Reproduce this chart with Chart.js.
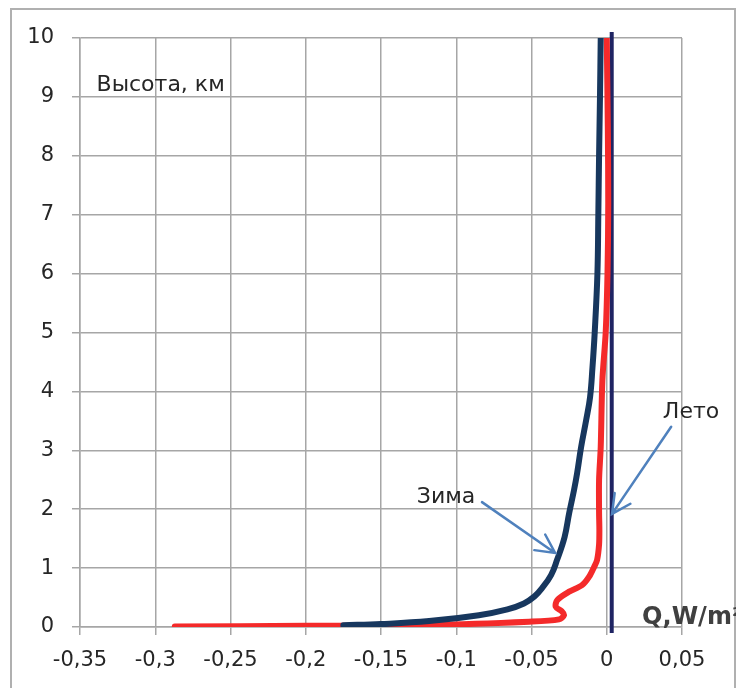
<!DOCTYPE html>
<html>
<head>
<meta charset="utf-8">
<style>
  html, body { margin: 0; padding: 0; background: #ffffff; }
  #wrap { width: 736px; height: 688px; position: relative; }
</style>
<script src="https://cdn.jsdelivr.net/npm/chart.js@4.4.1/dist/chart.umd.min.js"></script>
</head>
<body>
<div id="wrap"><canvas id="c" width="736" height="688"></canvas></div>
<script>
// Heat flux Q (W/m²) against height (km)
const winterQ = [-0.175, -0.15, -0.118, -0.085, -0.066, -0.055, -0.048, -0.043, -0.037, -0.033, -0.028, -0.025, -0.0217, -0.0197, -0.017, -0.0137, -0.0111, -0.0095, -0.008, -0.0062, -0.0056, -0.0051, -0.0045, -0.004];
const winterH = [0.03, 0.05, 0.10, 0.20, 0.30, 0.40, 0.52, 0.66, 0.88, 1.14, 1.53, 1.93, 2.33, 2.61, 3.06, 3.51, 3.9, 4.4, 5.0, 6.0, 7.0, 8.0, 9.0, 10.0];

const summerQ = [-0.287, -0.2, -0.118, -0.0516, -0.0317, -0.0284, -0.0300, -0.0339, -0.0328, -0.025, -0.0164, -0.0118, -0.0084, -0.0064, -0.0051, -0.0049, -0.0051, -0.0051, -0.0040, -0.0029, -0.0007, 0.0005, 0.001, 0.0007, 0.0];
const summerH = [0.01, 0.02, 0.034, 0.09, 0.13, 0.20, 0.27, 0.345, 0.46, 0.60, 0.71, 0.85, 1.02, 1.14, 1.4, 1.65, 1.94, 2.5, 3.06, 4.19, 5.0, 6.0, 7.2, 8.5, 10.0];

// vertical reference line
const refQ = [0.0033, 0.0033];
const refH = [-0.1, 10.1];

const xTickLabels = ['-0,35', '-0,3', '-0,25', '-0,2', '-0,15', '-0,1', '-0,05', '0', '0,05'];
const yTickLabels = ['0', '1', '2', '3', '4', '5', '6', '7', '8', '9', '10'];

// callouts: text position and arrow endpoints, in axis units
const callouts = [
  { text: 'Зима', q: -0.1068, h: 2.21, from: [-0.0829, 2.12], to: [-0.0343, 1.256] },
  { text: 'Лето', q: 0.056, h: 3.65, from: [0.0428, 3.40], to: [0.0035, 1.92] }
];
const heightTitle = { text: 'Высота, км', q: -0.339, h: 9.20 };
const fluxTitle = { text: 'Q,W/m²', q: 0.0235, h: 0.15 };

const pts = (xs, ys) => xs.map((x, i) => ({ x: x, y: ys[i] }));

const gridGray = '#a6a6a6';
const textColor = '#262626';

const decor = {
  id: 'decor',
  beforeDraw(chart) {
    const ctx = chart.ctx;
    ctx.save();
    ctx.fillStyle = '#ffffff';
    ctx.fillRect(0, 0, chart.width, chart.height);
    ctx.strokeStyle = '#b0b0b0';
    ctx.lineWidth = 2;
    ctx.strokeRect(11, 9, 724, 700);
    ctx.restore();
  },
  afterDraw(chart) {
    const ctx = chart.ctx;
    const xs = chart.scales.x, ys = chart.scales.y;
    const px = q => xs.getPixelForValue(q);
    const py = h => ys.getPixelForValue(h);
    ctx.save();
    ctx.fillStyle = textColor;
    ctx.textBaseline = 'middle';

    ctx.font = '22px "DejaVu Sans"';
    ctx.textAlign = 'left';
    ctx.fillText(heightTitle.text, px(heightTitle.q), py(heightTitle.h));

    callouts.forEach(c => {
      ctx.font = '22px "DejaVu Sans"';
      ctx.textAlign = 'center';
      ctx.fillStyle = textColor;
      ctx.fillText(c.text, px(c.q), py(c.h));
      const x0 = px(c.from[0]), y0 = py(c.from[1]);
      const x1 = px(c.to[0]), y1 = py(c.to[1]);
      ctx.strokeStyle = '#4f81bd';
      ctx.lineWidth = 2.5;
      ctx.lineCap = 'round';
      ctx.beginPath();
      ctx.moveTo(x0, y0);
      ctx.lineTo(x1, y1);
      const a = Math.atan2(y1 - y0, x1 - x0);
      const len = 21, spread = 0.47;
      ctx.moveTo(x1 - len * Math.cos(a - spread), y1 - len * Math.sin(a - spread));
      ctx.lineTo(x1, y1);
      ctx.lineTo(x1 - len * Math.cos(a + spread), y1 - len * Math.sin(a + spread));
      ctx.stroke();
    });

    ctx.font = 'bold 24px "DejaVu Sans"';
    ctx.textAlign = 'left';
    ctx.fillStyle = '#404040';
    ctx.fillText(fluxTitle.text, px(fluxTitle.q), py(fluxTitle.h));
    ctx.restore();
  }
};

new Chart(document.getElementById('c'), {
  type: 'scatter',
  data: {
    datasets: [
      {
        label: 'Зима',
        data: pts(winterQ, winterH),
        showLine: true,
        borderColor: '#17375e',
        borderWidth: 6,
        pointRadius: 0,
        tension: 0.4,
        borderCapStyle: 'round',
        borderJoinStyle: 'round'
      },
      {
        label: 'Лето',
        data: pts(summerQ, summerH),
        showLine: true,
        borderColor: '#f42a2a',
        borderWidth: 6,
        pointRadius: 0,
        tension: 0.3,
        borderCapStyle: 'round',
        borderJoinStyle: 'round'
      },
      {
        label: 'ref',
        data: pts(refQ, refH),
        showLine: true,
        borderColor: '#1f2463',
        borderWidth: 4,
        pointRadius: 0,
        clip: false
      }
    ]
  },
  options: {
    responsive: false,
    animation: false,
    devicePixelRatio: 1,
    layout: { padding: { top: 38, right: 54, left: 0, bottom: 0 } },
    plugins: {
      legend: { display: false },
      tooltip: { enabled: false }
    },
    scales: {
      x: {
        type: 'linear',
        min: -0.35,
        max: 0.05,
        afterFit(s) { s.height = 61; },
        afterBuildTicks(s) {
          s.ticks = xTickLabels.map((t, i) => ({ value: -0.35 + i * 0.05 }));
        },
        ticks: {
          callback: (v, i) => xTickLabels[i],
          color: textColor,
          font: { family: 'DejaVu Sans', size: 21 },
          padding: 13,
          maxRotation: 0,
          autoSkip: false
        },
        grid: { color: gridGray, lineWidth: 1.5, tickLength: 8, drawTicks: true },
        border: { display: true, color: gridGray, width: 1.5 }
      },
      y: {
        type: 'linear',
        min: 0,
        max: 10,
        afterFit(s) { s.width = 80; },
        afterBuildTicks(s) {
          s.ticks = yTickLabels.map((t, i) => ({ value: i }));
        },
        ticks: {
          callback: (v, i) => yTickLabels[i],
          color: textColor,
          font: { family: 'DejaVu Sans', size: 21 },
          padding: 18,
          autoSkip: false
        },
        grid: { color: gridGray, lineWidth: 1.5, tickLength: 8, drawTicks: true },
        border: { display: true, color: gridGray, width: 1.5 }
      }
    }
  },
  plugins: [decor]
});
</script>
</body>
</html>
